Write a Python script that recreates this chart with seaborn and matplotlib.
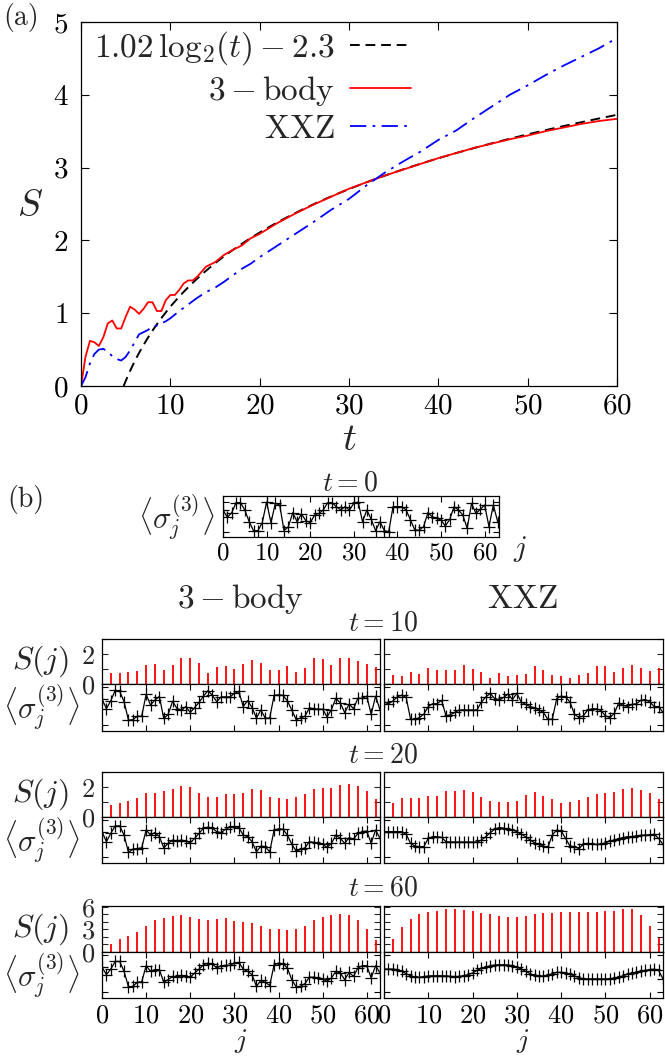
import numpy as np
import matplotlib
matplotlib.use("Agg")
import matplotlib.pyplot as plt
import seaborn as sns
from matplotlib.ticker import FixedLocator, FuncFormatter, NullFormatter
from matplotlib.lines import Line2D

# ---------------- panel (a) data ----------------
T_3B = [0, 0.5, 1, 1.5, 2, 2.5, 3, 3.5, 4, 4.5, 5, 5.5, 6, 6.5, 7, 7.5, 8, 8.5, 9, 9.5,
        10, 10.5, 11, 11.5, 12, 12.5, 13, 14, 15, 16, 17, 18, 19, 20, 22, 24, 26, 28, 30,
        32, 34, 36, 38, 40, 42, 44, 46, 48, 50, 52, 54, 56, 58, 60]
S_3B = [0, 0.40, 0.62, 0.60, 0.55, 0.67, 0.86, 0.90, 0.79, 0.79, 0.95, 1.09, 1.05, 0.99, 1.06, 1.15, 1.15, 1.03, 1.03, 1.18,
        1.25, 1.25, 1.32, 1.41, 1.45, 1.45, 1.50, 1.64, 1.70, 1.80, 1.87, 1.93, 2.03, 2.09, 2.24, 2.37, 2.49, 2.60, 2.71,
        2.80, 2.89, 2.97, 3.05, 3.13, 3.20, 3.27, 3.33, 3.39, 3.44, 3.50, 3.55, 3.60, 3.64, 3.67]
T_XXZ = [0, 0.5, 1, 1.5, 2, 2.5, 3, 3.5, 4, 4.5, 5, 5.5, 6, 6.5, 7, 7.5, 8, 8.5, 9, 9.5,
         10, 11, 12, 13, 14, 15, 16, 17, 18, 19, 20, 22, 24, 26, 28, 30, 32, 34, 36, 38,
         40, 42, 44, 46, 48, 50, 52, 54, 56, 58, 60]
S_XXZ = [0, 0.12, 0.31, 0.44, 0.50, 0.51, 0.47, 0.41, 0.37, 0.35, 0.40, 0.49, 0.60, 0.71, 0.74, 0.77, 0.82, 0.83, 0.86, 0.89,
         0.93, 1.03, 1.12, 1.21, 1.29, 1.35, 1.43, 1.52, 1.61, 1.68, 1.77, 1.93, 2.09, 2.25, 2.42, 2.57, 2.76, 2.93, 3.08, 3.22,
         3.38, 3.51, 3.68, 3.84, 4.00, 4.13, 4.27, 4.40, 4.52, 4.64, 4.78]
FIT_A, FIT_B = 1.02, 2.3           # legend: 1.02 log2(t) - 2.3
LEG_LABELS = [r"$1.02\,\mathrm{log}_2(t)-2.3$", r"$3-\mathrm{body}$", r"$\mathrm{XXZ}$"]

# ---------------- panel (b) data ----------------
J_SITES = list(range(64))
J_BONDS = list(range(2, 63, 2))

SIG_T0 = [0.47, -0.02, 0.29, 0.96, 0.96, 0.47, -0.31, -0.91, -0.91, -0.38,
          1.00, -0.38, 0.91, 0.80, -0.91, -0.64, 0.29, -0.31, 0.20, -0.24,
          -0.38, 0.13, 0.24, 0.47, 0.96, 0.96, 0.69, 0.47, 0.69, 0.47,
          0.91, 1.00, -0.31, 0.47, -0.16, -0.91, -0.31, -0.91, -0.98, 0.69,
          0.69, 0.69, 0.47, -0.20, -0.87, -0.87, -0.64, 0.29, 0.02, -0.09,
          -0.20, -0.60, -0.16, 0.69, 0.47, 0.13, -0.76, 0.91, 0.24, 0.51,
          0.80, -0.64, 0.80, -0.31]

S_3B_T10 = [0.76, 0.72, 0.81, 0.85, 1.26, 1.37, 0.97, 1.28, 1.73, 1.73, 1.42, 0.74, 1.15, 1.21, 1.01, 1.37,
            1.62, 1.39, 0.92, 0.94, 1.21, 0.81, 1.08, 1.75, 1.71, 1.30, 1.73, 1.73, 1.57, 1.37, 1.17]
S_XXZ_T10 = [0.62, 0.56, 0.82, 0.64, 1.11, 0.93, 0.96, 0.96, 1.27, 1.04, 0.84, 0.40, 0.73, 0.56, 0.58, 0.67,
             1.24, 0.91, 0.58, 0.56, 0.42, 0.58, 0.71, 1.24, 1.24, 0.82, 1.09, 1.31, 1.07, 0.87, 1.07]
S_3B_T20 = [0.78, 0.93, 1.11, 1.29, 1.62, 1.64, 1.78, 1.87, 2.11, 2.04, 1.64, 1.33, 1.33, 1.53, 1.53, 1.60,
            1.87, 1.80, 1.38, 1.27, 1.20, 1.33, 1.56, 1.89, 1.93, 1.93, 2.16, 2.22, 2.09, 1.78, 1.18]
S_XXZ_T20 = [0.93, 1.27, 1.29, 1.31, 1.40, 1.42, 1.76, 1.73, 1.80, 1.71, 1.33, 1.07, 0.98, 1.00, 1.07, 1.49,
             1.67, 1.44, 1.18, 0.93, 1.00, 1.16, 1.33, 1.58, 1.60, 1.71, 1.87, 1.96, 1.84, 1.64, 1.18]
S_3B_T60 = [1.1, 1.7, 2.1, 2.6, 3.5, 4.2, 4.5, 4.8, 4.9, 4.7, 4.35, 4.2, 4.35, 4.5, 4.1, 3.95,
            3.8, 3.5, 3.1, 3.0, 2.9, 3.1, 3.5, 4.2, 4.7, 4.9, 5.05, 4.9, 4.2, 3.05, 1.6]
S_XXZ_T60 = [1.7, 3.3, 4.4, 5.0, 5.25, 5.45, 5.65, 5.7, 5.55, 5.4, 5.15, 5.0, 4.75, 4.7, 4.6, 4.8,
             5.1, 5.15, 5.2, 5.25, 5.3, 5.3, 5.3, 5.35, 5.4, 5.5, 5.7, 5.65, 4.9, 3.4, 1.8]

SIG_3B_T10 = [0.36, -0.15, 0.27, 0.82, 0.76, 0.22, -0.76, -0.73, -0.55, -0.55,
              0.60, 0.04, 0.31, 0.49, -0.67, -0.45, 0.24, -0.15, -0.22, -0.04,
              -0.36, -0.09, 0.18, 0.51, 0.80, 0.55, 0.22, 0.47, 0.47, 0.47,
              0.65, 0.76, -0.04, 0.27, -0.09, -0.65, -0.22, -0.65, -0.65, 0.55,
              0.58, 0.55, 0.27, -0.22, -0.73, -0.64, -0.55, -0.11, -0.15, -0.18,
              -0.18, -0.58, -0.20, 0.40, 0.15, -0.36, 0.09, -0.15, 0.40, 0.40,
              0.51, -0.45, 0.51, -0.22]
SIG_XXZ_T10 = [0.20, 0.11, 0.25, 0.47, 0.56, 0.44, -0.71, -0.71, -0.62, -0.44,
               -0.04, 0.11, 0.11, 0.29, -0.53, -0.47, -0.35, -0.22, -0.22, -0.22,
               -0.22, -0.22, 0.20, 0.47, 0.65, 0.38, 0.33, 0.44, 0.62, 0.33,
               0.65, 0.20, 0.07, -0.04, -0.11, -0.22, -0.35, -0.71, -0.71, 0.38,
               0.51, 0.47, 0.20, -0.44, -0.62, -0.53, -0.22, -0.16, -0.16, -0.25,
               -0.53, -0.62, -0.40, 0.15, 0.02, -0.04, 0.07, 0.11, 0.29, 0.33,
               0.20, -0.04, -0.04, -0.35]
SIG_3B_T20 = [0.36, -0.18, 0.27, 0.67, 0.67, 0.18, -0.76, -0.58, -0.55, -0.51,
              0.45, 0.18, 0.31, 0.09, -0.51, -0.27, -0.09, -0.15, -0.09, -0.15,
              -0.24, 0.00, 0.27, 0.55, 0.60, 0.55, 0.36, 0.31, 0.49, 0.60,
              0.64, 0.58, 0.18, 0.09, -0.18, -0.73, -0.42, -0.45, -0.73, 0.45,
              0.51, 0.49, 0.18, -0.31, -0.69, -0.60, -0.51, -0.18, -0.22, -0.27,
              -0.33, -0.49, -0.27, 0.18, 0.00, -0.27, 0.04, -0.05, 0.27, 0.36,
              0.40, -0.27, 0.45, 0.00]
SIG_XXZ_T20 = [0.36, 0.36, 0.36, 0.36, 0.36, 0.22, -0.27, -0.42, -0.45, -0.45,
               0.00, 0.09, 0.09, 0.05, -0.18, -0.20, -0.20, -0.20, -0.20, -0.20,
               -0.20, -0.20, -0.09, 0.09, 0.31, 0.49, 0.58, 0.55, 0.49, 0.45,
               0.36, 0.22, 0.09, -0.09, -0.24, -0.33, -0.42, -0.49, 0.18, 0.45,
               0.40, 0.00, -0.42, -0.45, -0.55, -0.33, -0.27, -0.31, -0.33, -0.31,
               -0.24, -0.15, -0.09, -0.02, 0.04, 0.09, 0.09, 0.13, 0.16, 0.18,
               0.18, 0.22, 0.00, -0.33]
SIG_3B_T60 = [0.34, -0.07, 0.23, 0.64, 0.64, 0.11, -0.73, -0.70, -0.48, -0.46,
              0.41, 0.11, 0.20, 0.20, -0.48, -0.34, -0.16, -0.21, -0.11, -0.16,
              -0.21, 0.02, 0.23, 0.46, 0.55, 0.50, 0.29, 0.41, 0.43, 0.43,
              0.55, 0.59, 0.23, 0.11, -0.07, -0.70, -0.38, -0.48, -0.66, 0.46,
              0.55, 0.52, 0.29, -0.34, -0.73, -0.70, -0.55, -0.21, -0.21, -0.25,
              -0.30, -0.43, -0.25, 0.11, 0.02, -0.34, 0.05, -0.16, 0.29, 0.41,
              0.41, -0.25, 0.41, 0.02]
SIG_XXZ_T60 = [0.23, 0.23, 0.23, 0.20, 0.11, -0.02, -0.13, -0.20, -0.21, -0.18,
               -0.14, -0.13, -0.13, -0.13, -0.14, -0.16, -0.18, -0.16, -0.13, -0.07,
               0.02, 0.16, 0.27, 0.34, 0.41, 0.45, 0.46, 0.46, 0.45, 0.41,
               0.34, 0.23, 0.11, -0.02, -0.11, -0.16, -0.16, -0.09, -0.02, 0.05,
               0.05, 0.02, -0.05, -0.14, -0.23, -0.29, -0.30, -0.30, -0.30, -0.30,
               -0.30, -0.29, -0.25, -0.20, -0.13, -0.05, 0.00, 0.05, 0.11, 0.16,
               0.20, 0.23, 0.16, -0.30]

ROW_TIMES = ["10", "20", "60"]
S_ROWS = [(S_3B_T10, S_XXZ_T10), (S_3B_T20, S_XXZ_T20), (S_3B_T60, S_XXZ_T60)]
SIG_ROWS = [(SIG_3B_T10, SIG_XXZ_T10), (SIG_3B_T20, SIG_XXZ_T20), (SIG_3B_T60, SIG_XXZ_T60)]
S_YMAX = [3.03, 3.03, 6.1]
S_LABEL_STEP = [2, 2, 3]
COL_TITLES = [r"$3-\mathrm{body}$", r"$\mathrm{XXZ}$"]

# ---------------- style ----------------
sns.set_style("ticks")
plt.rcParams.update({
    "font.family": "serif",
    "font.serif": ["cmr10"],
    "mathtext.fontset": "cm",
    "axes.unicode_minus": False,
    "axes.formatter.use_mathtext": True,
    "axes.linewidth": 0.9,
    "axes.edgecolor": "black",
})

W, H = 665, 1056
fig = plt.figure(figsize=(W / 100, H / 100), dpi=100)


def rect(x0, y0, x1, y1):
    return [x0 / W, 1 - y1 / H, (x1 - x0) / W, (y1 - y0) / H]


def inticks(ax, size, length=5):
    ax.tick_params(direction="in", top=True, right=True, length=length, width=0.8,
                   labelsize=size, colors="black")


# ---------------- panel (a) ----------------
ax = fig.add_axes(rect(81, 22, 617, 386))
t0 = 2 ** (FIT_B / FIT_A)
t_fit = np.linspace(t0, 60, 300)
s_fit = FIT_A * np.log2(t_fit) - FIT_B
sns.lineplot(x=t_fit, y=s_fit, ax=ax, color="black", lw=1.4, linestyle=(0, (5, 3)),
             sort=False, errorbar=None)
sns.lineplot(x=T_3B, y=S_3B, ax=ax, color="#ff0000", lw=1.3, sort=False, errorbar=None)
sns.lineplot(x=T_XXZ, y=S_XXZ, ax=ax, color="#0000ff", lw=1.3,
             linestyle=(0, (9, 3.5, 1.5, 3.5)), sort=False, errorbar=None)
ax.set_xlim(0, 60)
ax.set_ylim(0, 5)
ax.set_xticks(range(0, 61, 10))
ax.set_yticks(range(0, 6))
inticks(ax, 21, 6)
ax.tick_params(axis="x", pad=5)
ax.tick_params(axis="y", pad=9)
ax.set_xlabel("")
ax.set_ylabel("")
handles = [Line2D([], [], color="black", lw=1.4, linestyle=(0, (5, 3))),
           Line2D([], [], color="#ff0000", lw=1.3),
           Line2D([], [], color="#0000ff", lw=1.3, linestyle=(0, (9, 3.5, 1.5, 3.5)))]
leg = ax.legend(handles, LEG_LABELS, loc="upper right", bbox_to_anchor=(0.66, 1.045),
                markerfirst=False, frameon=False, fontsize=24, handlelength=1.85,
                handletextpad=0.45, labelspacing=0.2, borderpad=0.2)
for txt in leg.get_texts():
    txt.set_ha("right")
fig.text(30 / W, 1 - 206 / H, r"$S$", fontsize=27, ha="center", va="center")
fig.text(349 / W, 1 - 440 / H, r"$t$", fontsize=28, ha="center", va="center")
fig.text(21 / W, 1 - 17 / H, "(a)", fontsize=20, ha="center", va="center")

# ---------------- panel (b): t = 0 ----------------
ax0 = fig.add_axes(rect(223, 496, 499, 537))
sns.lineplot(x=J_SITES, y=SIG_T0, ax=ax0, color="black", lw=0.9, marker="+", markersize=8,
             markeredgecolor="black", markeredgewidth=0.9, sort=False, errorbar=None)
ax0.set_xlim(0, 63.3)
ax0.set_ylim(-1.33, 1.4)
ax0.set_xticks(range(0, 61, 10))
ax0.set_yticks([-1, 1])
ax0.yaxis.set_major_formatter(NullFormatter())
inticks(ax0, 18, 4)
ax0.tick_params(axis="x", pad=4)
ax0.set_xlabel("")
ax0.set_ylabel("")
fig.text(26 / W, 1 - 499 / H, "(b)", fontsize=20, ha="center", va="center")
fig.text(350 / W, 1 - 483 / H, r"$t=0$", fontsize=20, ha="center", va="center")
fig.text(176 / W, 1 - 517 / H, r"$\langle\sigma_j^{(3)}\rangle$", fontsize=22, ha="center", va="center")
fig.text(520 / W, 1 - 549 / H, r"$j$", fontsize=21, ha="center", va="center")

# column titles
fig.text(240 / W, 1 - 599 / H, COL_TITLES[0], fontsize=24, ha="center", va="center")
fig.text(522 / W, 1 - 599 / H, COL_TITLES[1], fontsize=24, ha="center", va="center")

# ---------------- panel (b): rows ----------------
ROW_Y = [(639, 684, 731), (772, 817, 863), (906, 952, 998)]
TITLE_Y = [623, 755, 888]
COL_X = [(102, 380), (384, 663)]

for r in range(3):
    ytop, ymid, ybot = ROW_Y[r]
    fig.text(383 / W, 1 - TITLE_Y[r] / H, r"$t=%s$" % ROW_TIMES[r], fontsize=20,
             ha="center", va="center")
    for c in range(2):
        x0, x1 = COL_X[c]
        axs = fig.add_axes(rect(x0, ytop, x1, ymid))
        axs.vlines(J_BONDS, 0, S_ROWS[r][c], color="#ff0000", lw=1.3)
        axs.set_xlim(0, 63)
        axs.set_ylim(0, S_YMAX[r])
        axs.set_xticks([])
        top_tick = int(np.floor(S_YMAX[r]))
        axs.yaxis.set_major_locator(FixedLocator(list(range(0, top_tick + 1))))
        step = S_LABEL_STEP[r]
        if c == 0:
            axs.yaxis.set_major_formatter(FuncFormatter(
                lambda v, p, s=step: ("%d" % v) if int(round(v)) % s == 0 else ""))
        else:
            axs.yaxis.set_major_formatter(NullFormatter())
        axs.tick_params(axis="y", direction="in", left=True, right=True, length=4, width=0.8,
                        labelsize=19, pad=5)
        axs.tick_params(axis="x", bottom=False, top=False)

        axg = fig.add_axes(rect(x0, ymid, x1, ybot))
        sns.lineplot(x=J_SITES, y=SIG_ROWS[r][c], ax=axg, color="black", lw=0.9, marker="+",
                     markersize=8, markeredgecolor="black", markeredgewidth=0.9,
                     sort=False, errorbar=None)
        axg.set_xlim(0, 63)
        axg.set_ylim(-1.33, 1.15)
        axg.set_xticks(range(0, 61, 10))
        axg.set_yticks([-1, 1])
        axg.yaxis.set_major_formatter(NullFormatter())
        inticks(axg, 19, 4)
        if r < 2:
            axg.xaxis.set_major_formatter(NullFormatter())
        axg.tick_params(axis="x", pad=4)
        axg.set_xlabel("")
        axg.set_ylabel("")
        for a in (axs, axg):
            for sp in a.spines.values():
                sp.set_linewidth(0.9)
    fig.text(40 / W, 1 - (ytop + ymid) / 2 / H, r"$S(j)$", fontsize=23, ha="center", va="center")
    fig.text(41 / W, 1 - (ymid + ybot) / 2 / H, r"$\langle\sigma_j^{(3)}\rangle$", fontsize=22,
             ha="center", va="center")

fig.text(241 / W, 1 - 1041 / H, r"$j$", fontsize=20, ha="center", va="center")
fig.text(523 / W, 1 - 1041 / H, r"$j$", fontsize=20, ha="center", va="center")

fig.savefig("out.png", dpi=100)
